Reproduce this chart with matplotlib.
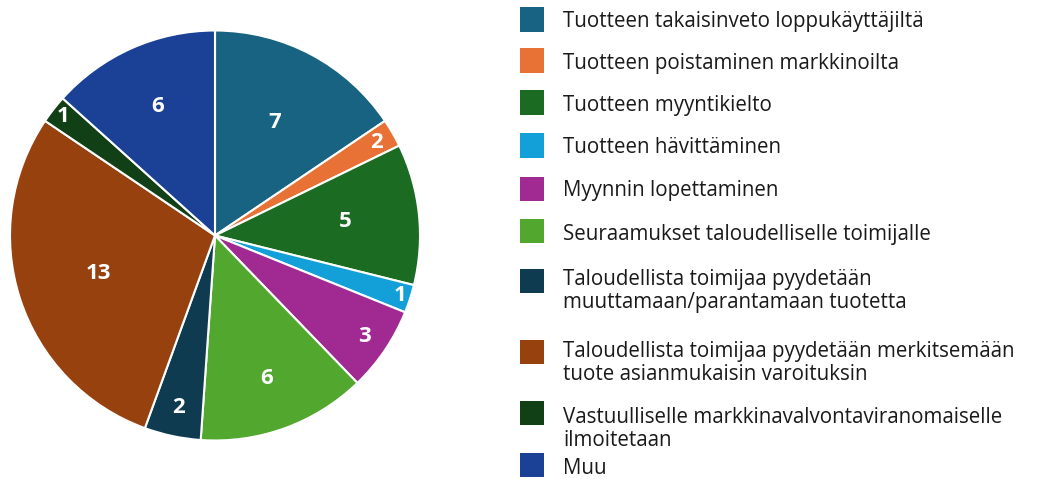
import matplotlib
matplotlib.use("Agg")
import matplotlib.pyplot as plt
import numpy as np
from matplotlib.patches import Rectangle

categories = [
    "Tuotteen takaisinveto loppukäyttäjiltä",
    "Tuotteen poistaminen markkinoilta",
    "Tuotteen myyntikielto",
    "Tuotteen hävittäminen",
    "Myynnin lopettaminen",
    "Seuraamukset taloudelliselle toimijalle",
    "Taloudellista toimijaa pyydetään\nmuuttamaan/parantamaan tuotetta",
    "Taloudellista toimijaa pyydetään merkitsemään\ntuote asianmukaisin varoituksin",
    "Vastuulliselle markkinavalvontaviranomaiselle\nilmoitetaan",
    "Muu",
]
# slice sizes as drawn in the reference (the orange slice is drawn at size 1)
slice_values = [7, 1, 5, 1, 3, 6, 2, 13, 1, 6]
# numbers printed on the slices
label_values = [7, 2, 5, 1, 3, 6, 2, 13, 1, 6]
colors = ["#186382", "#e87136", "#1c6b23", "#13a0d8", "#a02a92",
          "#52a72f", "#0e3b50", "#97410f", "#113f16", "#1a4196"]
label_r = [0.625, 0.91, 0.64, 0.95, 0.88, 0.74, 0.86, 0.60, 0.94, 0.69]

plt.rcParams['font.family'] = ['Open Sans', 'DejaVu Sans']

W, H = 1045, 479
fig = plt.figure(figsize=(W / 100, H / 100), dpi=100)

cx, cy, R = 215, 235.5, 205
ax = fig.add_axes([(cx - R) / W, (H - cy - R) / H, 2 * R / W, 2 * R / H])
wedges, _ = ax.pie(slice_values, colors=colors, startangle=90, counterclock=False,
                   wedgeprops=dict(edgecolor="white", linewidth=1.5))
ax.set_xlim(-1, 1)
ax.set_ylim(-1, 1)
ax.set_aspect("equal")
ax.axis("off")

for w, v, r in zip(wedges, label_values, label_r):
    ang = np.deg2rad((w.theta1 + w.theta2) / 2)
    ax.text(r * np.cos(ang), r * np.sin(ang), str(v), ha="center", va="center",
            color="white", fontsize=16, fontweight="bold")

# legend (pixel layout from top)
sq_y = [19.5, 60.5, 102.5, 145.5, 189, 231, 281, 352, 412.5, 465]
line_base = [[27.5], [69], [111], [153], [196], [240],
             [285, 308], [357, 379.5], [423, 446], [474]]
sq = 24
for name, c, y, bases in zip(categories, colors, sq_y, line_base):
    fig.patches.append(Rectangle((520 / W, (H - y - sq / 2) / H), sq / W, sq / H,
                                 transform=fig.transFigure, facecolor=c,
                                 edgecolor="none"))
    for line, b in zip(name.split("\n"), bases):
        fig.text(563 / W, (H - b) / H, line, ha="left", va="baseline",
                 fontsize=14.8, color="#1a1a1a")

fig.savefig("out.png", dpi=100)
